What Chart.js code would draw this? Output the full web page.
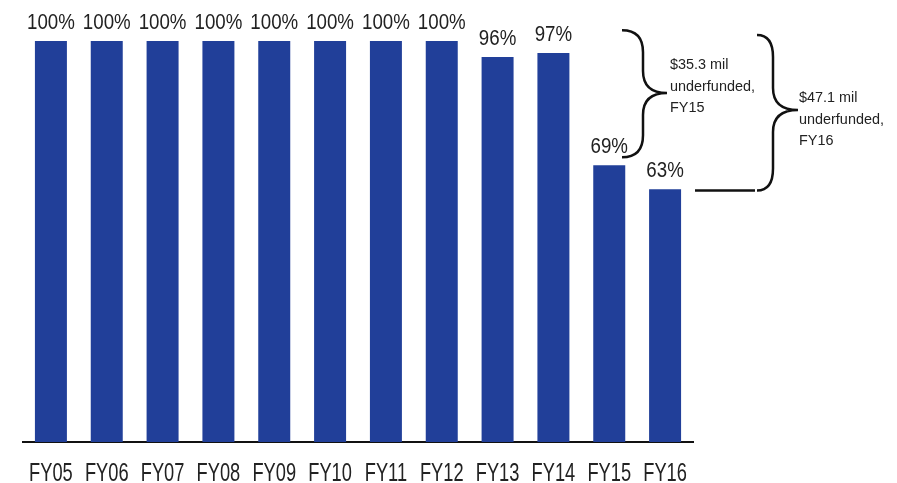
<!DOCTYPE html>
<html>
<head>
<meta charset="utf-8">
<script src="https://cdn.jsdelivr.net/npm/chart.js@4"></script>
<style>
  html, body { margin: 0; padding: 0; background: #fff; }
  #wrap { width: 897px; height: 483px; }
</style>
</head>
<body>
<div id="wrap"><canvas id="myChart" width="897" height="483"></canvas></div>
<script>
const years = ["FY05", "FY06", "FY07", "FY08", "FY09", "FY10", "FY11", "FY12", "FY13", "FY14", "FY15", "FY16"];
const funded = [100, 100, 100, 100, 100, 100, 100, 100, 96, 97, 69, 63];
const note15 = ["$35.3 mil", "underfunded,", "FY15"];
const note16 = ["$47.1 mil", "underfunded,", "FY16"];

const FONT = "'Liberation Sans', Arial, sans-serif";

// the reference uses a narrow face, so squeeze the text a bit
function narrowText(ctx, t, x, y, sx) {
	ctx.save();
	ctx.translate(x, y);
	ctx.scale(sx, 1);
	ctx.fillText(t, 0, 0);
	ctx.restore();
}

// percent labels over the bars + category labels under the axis
const barLabels = {
	id: "barLabels",
	afterDatasetsDraw(chart) {
		const ctx = chart.ctx;
		const meta = chart.getDatasetMeta(0);
		const xs = chart.scales.x;
		ctx.save();
		ctx.fillStyle = "#222";
		ctx.textAlign = "center";
		ctx.textBaseline = "alphabetic";
		ctx.font = "21.5px " + FONT;
		meta.data.forEach((bar, i) => {
			narrowText(ctx, funded[i] + "%", bar.x, bar.y - 12, 0.87);
		});
		ctx.font = "25px " + FONT;
		years.forEach((lab, i) => {
			narrowText(ctx, lab, xs.getPixelForTick(i), xs.bottom - 2, 0.73);
		});
		ctx.restore();
	}
};

function brace(ctx, x0, x1, x2, yTop, yMid, yBot, r) {
	ctx.beginPath();
	ctx.moveTo(x0, yTop);
	ctx.quadraticCurveTo(x1, yTop, x1, yTop + r);
	ctx.lineTo(x1, yMid - r);
	ctx.quadraticCurveTo(x1, yMid, x2, yMid);
	ctx.quadraticCurveTo(x1, yMid, x1, yMid + r);
	ctx.lineTo(x1, yBot - r);
	ctx.quadraticCurveTo(x1, yBot, x0, yBot);
	ctx.stroke();
}

// curly braces with the underfunding notes
const braces = {
	id: "braces",
	afterDraw(chart) {
		const ctx = chart.ctx;
		const y = chart.scales.y;
		const right = chart.chartArea.right;
		ctx.save();
		ctx.strokeStyle = "#111";
		ctx.lineWidth = 2.5;

		// FY15 brace
		brace(ctx, right - 71, right - 50, right - 26, y.getPixelForValue(102.7), 93, y.getPixelForValue(71), 22);
		// FY16 brace, with the lead line from the last bar
		const b = y.getPixelForValue(62.7);
		ctx.beginPath();
		ctx.moveTo(right + 2, b);
		ctx.lineTo(right + 62, b);
		ctx.stroke();
		brace(ctx, right + 64, right + 80, right + 105, y.getPixelForValue(101.5), 110, b, 22);

		ctx.font = "15.5px " + FONT;
		ctx.fillStyle = "#222";
		ctx.textBaseline = "middle";
		note15.forEach((t, i) => narrowText(ctx, t, right - 23, 65 + i * 21.5, 0.93));
		note16.forEach((t, i) => narrowText(ctx, t, right + 106, 98 + i * 21.5, 0.93));
		ctx.restore();
	}
};

new Chart(document.getElementById("myChart"), {
	type: "bar",
	data: {
		labels: years,
		datasets: [{
			data: funded,
			backgroundColor: "#213F99",
			borderWidth: 0,
			barPercentage: 0.573,
			categoryPercentage: 1
		}]
	},
	options: {
		responsive: false,
		animation: false,
		events: [],
		layout: { padding: { left: 23, right: 204, top: 41, bottom: 0 } },
		plugins: { legend: { display: false }, tooltip: { enabled: false } },
		scales: {
			y: { display: false, min: 0, max: 100 },
			x: {
				grid: { display: false, drawTicks: false },
				border: { display: true, color: "#111", width: 2 },
				ticks: { display: false },
				afterFit(axis) { axis.height = 41; }
			}
		}
	},
	plugins: [barLabels, braces]
});
</script>
</body>
</html>
